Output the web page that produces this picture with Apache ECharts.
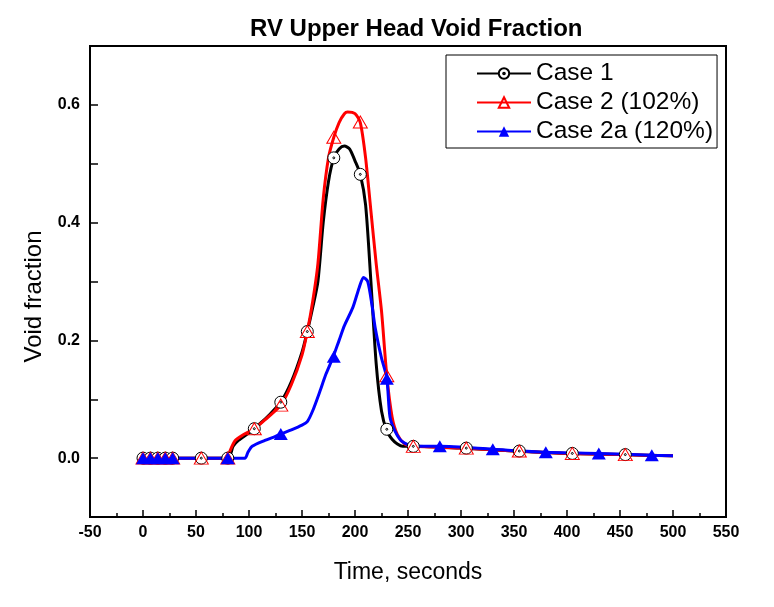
<!DOCTYPE html>
<html>
<head>
<meta charset="utf-8">
<script src="https://cdn.jsdelivr.net/npm/echarts@6/dist/echarts.min.js"></script>
<style>html,body{margin:0;padding:0;background:#fff;}#c{width:774px;height:607px;}</style>
</head>
<body>
<div id="c"></div>
<script>
// ---- Data ----
var case1T = [0, 80, 85, 90, 100, 110, 120, 130, 140, 150, 155, 160, 165, 170, 175, 180, 185, 190, 195, 200, 205, 210, 215, 220, 225, 230, 235, 240, 245, 255, 300, 350, 400, 450, 500];
var case1V = [0, 0, 0.02, 0.03, 0.043, 0.058, 0.075, 0.095, 0.13, 0.18, 0.215, 0.255, 0.3, 0.4, 0.47, 0.51, 0.525, 0.53, 0.525, 0.505, 0.482, 0.43, 0.3, 0.16, 0.08, 0.046, 0.032, 0.024, 0.02, 0.02, 0.017, 0.012, 0.008, 0.006, 0.004];

var case2T = [0, 80, 82, 87, 95, 105, 115, 130, 140, 150, 155, 160, 165, 170, 175, 180, 185, 190, 193, 200, 205, 210, 215, 220, 225, 230, 235, 240, 247, 255, 300, 350, 400, 450, 500];
var case2V = [0, 0, 0.012, 0.03, 0.04, 0.05, 0.065, 0.09, 0.125, 0.175, 0.215, 0.265, 0.33, 0.44, 0.51, 0.545, 0.57, 0.585, 0.588, 0.585, 0.57, 0.51, 0.42, 0.33, 0.25, 0.14, 0.07, 0.04, 0.024, 0.02, 0.017, 0.012, 0.008, 0.006, 0.004];

var case2aT = [0, 96, 99, 103, 115, 125, 130, 140, 150, 155, 160, 167, 172, 179, 185, 190, 198, 204, 208, 212, 216, 219, 225, 230, 233, 238, 244, 255, 280, 330, 380, 430, 480, 500];
var case2aV = [0, 0, 0.01, 0.02, 0.03, 0.037, 0.041, 0.048, 0.056, 0.062, 0.08, 0.114, 0.14, 0.17, 0.2, 0.225, 0.256, 0.29, 0.307, 0.3, 0.26, 0.222, 0.17, 0.136, 0.07, 0.045, 0.029, 0.02, 0.02, 0.015, 0.01, 0.008, 0.005, 0.004];

var case1MarkT = [0, 7, 14, 21, 28, 55, 80, 105, 130, 155, 180, 205, 230, 255, 305, 355, 405, 455];
var case1MarkV = [0, 0, 0, 0, 0, 0, 0, 0.05, 0.095, 0.215, 0.51, 0.482, 0.049, 0.02, 0.017, 0.012, 0.008, 0.006];
var case2MarkT = [0, 7, 14, 21, 28, 55, 80, 105, 130, 155, 180, 205, 230, 255, 305, 355, 405, 455];
var case2MarkV = [0, 0, 0, 0, 0, 0, 0, 0.05, 0.09, 0.215, 0.545, 0.571, 0.14, 0.02, 0.017, 0.012, 0.008, 0.006];
var case2aMarkT = [0, 7, 14, 21, 28, 80, 130, 180, 230, 280, 330, 380, 430, 480];
var case2aMarkV = [0, 0, 0, 0, 0, 0, 0.041, 0.172, 0.135, 0.02, 0.015, 0.01, 0.008, 0.005];

var seriesNames = ['Case 1', 'Case 2 (102%)', 'Case 2a (120%)'];
var xTickLabels = [-50, 0, 50, 100, 150, 200, 250, 300, 350, 400, 450, 500, 550];
var yTickLabels = [0.0, 0.2, 0.4, 0.6];

function pairs(t, v) { return t.map(function (x, i) { return [x, v[i]]; }); }

var dotCircle = 'path://M0,-10A10,10 0 1,1 0,10A10,10 0 1,1 0,-10Z M0,-1.6A1.6,1.6 0 1,1 0,1.6A1.6,1.6 0 1,1 0,-1.6Z';
var FONT = 'Liberation Sans, Arial, sans-serif';

var chart = echarts.init(document.getElementById('c'), null, { renderer: 'canvas' });
chart.setOption({
  backgroundColor: '#fff',
  animation: false,
  title: {
    text: 'RV Upper Head Void Fraction',
    left: 245, top: 12,
    textStyle: { fontFamily: FONT, fontWeight: 'bold', fontSize: 24, color: '#000' }
  },
  legend: {
    data: seriesNames,
    orient: 'vertical',
    left: 446, top: 55,
    width: 272,
    padding: [6, 4, 4, 30],
    backgroundColor: '#fff',
    borderColor: '#000', borderWidth: 1,
    itemWidth: 54, itemHeight: 13, itemGap: 4,
    textStyle: { fontFamily: FONT, fontSize: 24.5, color: '#000' }
  },
  grid: {
    left: 90, right: 48, top: 46, bottom: 90,
    show: true, borderColor: '#000', borderWidth: 2
  },
  xAxis: {
    type: 'value', min: -50, max: 550, interval: 50,
    name: 'Time, seconds', nameLocation: 'middle', nameGap: 44,
    nameTextStyle: { fontFamily: FONT, fontSize: 23, color: '#000' },
    axisLine: { show: true, onZero: false, lineStyle: { color: '#000', width: 2 } },
    axisTick: { show: true, inside: true, length: 7, lineStyle: { color: '#000', width: 1.5 } },
    minorTick: { show: true, splitNumber: 2, length: 4, lineStyle: { color: '#000', width: 1.5 } },
    splitLine: { show: false },
    axisLabel: {
      margin: 8, fontFamily: FONT, fontWeight: 'bold', fontSize: 16, color: '#000',
      formatter: function (v) { return xTickLabels.indexOf(v) >= 0 ? String(v) : ''; }
    }
  },
  yAxis: {
    type: 'value', min: -0.1, max: 0.7, interval: 0.1,
    name: 'Void fraction', nameLocation: 'middle', nameGap: 44,
    nameTextStyle: { fontFamily: FONT, fontSize: 24, color: '#000', padding: [0, 30, 0, 0] },
    axisLine: { show: true, onZero: false, lineStyle: { color: '#000', width: 2 } },
    axisTick: { show: true, inside: true, length: 8, lineStyle: { color: '#000', width: 1.5 } },
    splitLine: { show: false },
    axisLabel: {
      margin: 10, fontFamily: FONT, fontWeight: 'bold', fontSize: 16, color: '#000',
      formatter: function (v) {
        var r = Math.round(v * 10) / 10;
        for (var i = 0; i < yTickLabels.length; i++) {
          if (Math.abs(yTickLabels[i] - r) < 1e-6) return yTickLabels[i].toFixed(1);
        }
        return '';
      }
    }
  },
  series: [
    {
      name: seriesNames[0], type: 'line', data: pairs(case1T, case1V),
      smooth: 0.25, showSymbol: false, symbol: dotCircle, symbolSize: 12, symbolKeepAspect: true,
      lineStyle: { color: '#000', width: 3 },
      itemStyle: { color: '#fff', borderColor: '#000', borderWidth: 1 }, z: 2
    },
    {
      name: seriesNames[1], type: 'line', data: pairs(case2T, case2V),
      smooth: 0.25, showSymbol: false, symbol: 'triangle', symbolSize: [14, 12],
      lineStyle: { color: '#ff0000', width: 3 },
      itemStyle: { color: 'rgba(255,255,255,0)', borderColor: '#ff0000', borderWidth: 1 }, z: 3
    },
    {
      name: seriesNames[2], type: 'line', data: pairs(case2aT, case2aV),
      smooth: 0.25, showSymbol: false, symbol: 'triangle', symbolSize: [14, 12],
      lineStyle: { color: '#0000ff', width: 3 },
      itemStyle: { color: '#0000ff' }, z: 4
    },
    {
      name: 'm1', type: 'scatter', data: pairs(case1MarkT, case1MarkV),
      symbol: dotCircle, symbolSize: 12, symbolKeepAspect: true,
      itemStyle: { color: '#fff', borderColor: '#000', borderWidth: 1, opacity: 1 }, z: 5
    },
    {
      name: 'm2', type: 'scatter', data: pairs(case2MarkT, case2MarkV),
      symbol: 'triangle', symbolSize: [14, 12],
      itemStyle: { color: 'rgba(255,255,255,0)', borderColor: '#ff0000', borderWidth: 1, opacity: 1 }, z: 6
    },
    {
      name: 'm3', type: 'scatter', data: pairs(case2aMarkT, case2aMarkV),
      symbol: 'triangle', symbolSize: [14, 12],
      itemStyle: { color: '#0000ff', opacity: 1 }, z: 7
    }
  ]
});
</script>
</body>
</html>
